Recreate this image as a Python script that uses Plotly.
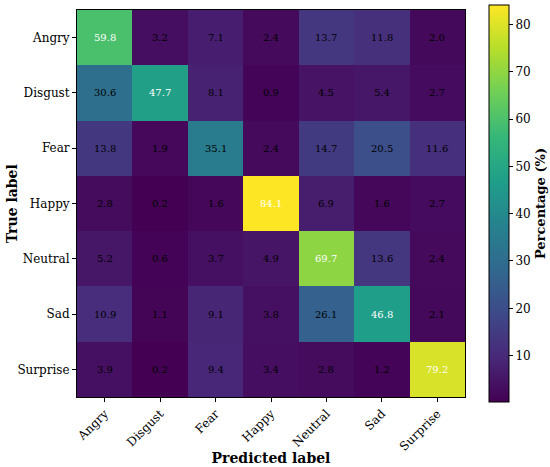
import plotly.graph_objects as go

labels = ["Angry", "Disgust", "Fear", "Happy", "Neutral", "Sad", "Surprise"]

# rows = true label, cols = predicted label (percent)
angry = [59.8, 3.2, 7.1, 2.4, 13.7, 11.8, 2.0]
disgust = [30.6, 47.7, 8.1, 0.9, 4.5, 5.4, 2.7]
fear = [13.8, 1.9, 35.1, 2.4, 14.7, 20.5, 11.6]
happy = [2.8, 0.2, 1.6, 84.1, 6.9, 1.6, 2.7]
neutral = [5.2, 0.6, 3.7, 4.9, 69.7, 13.6, 2.4]
sad = [10.9, 1.1, 9.1, 3.8, 26.1, 46.8, 2.1]
surprise = [3.9, 0.2, 9.4, 3.4, 2.8, 1.2, 79.2]

z = [angry, disgust, fear, happy, neutral, sad, surprise]
zmin = min(min(r) for r in z)
zmax = max(max(r) for r in z)
thresh = zmax / 2

serif = "DejaVu Serif"

fig = go.Figure(go.Heatmap(
    z=z, x=labels, y=labels,
    colorscale="Viridis", zmin=zmin, zmax=zmax,
    colorbar=dict(
        thickness=20, len=1.025, lenmode="fraction", ypad=0, xpad=0,
        x=1.062, xanchor="left", y=0.5, yanchor="middle",
        outlinewidth=1, outlinecolor="black",
        ticks="outside", ticklen=4, tickcolor="black",
        tickvals=[10, 20, 30, 40, 50, 60, 70, 80],
        tickfont=dict(family=serif, size=12, color="black"),
        title=dict(text="<b>Percentage (%)</b>", side="right",
                   font=dict(family=serif, size=13, color="black")),
    ),
    hovertemplate="%{y} → %{x}: %{z:.1f}%<extra></extra>",
))

annotations = []
for i, row in enumerate(z):
    for j, v in enumerate(row):
        annotations.append(dict(
            x=labels[j], y=labels[i], xref="x", yref="y",
            text="%.1f" % v, showarrow=False,
            font=dict(family=serif, size=10,
                      color="white" if v > thresh else "black"),
        ))

# y axis title placed by hand so it sits where the reference has it
annotations.append(dict(
    x=-0.168, y=0.5, xref="paper", yref="paper", xanchor="center", yanchor="middle",
    text="<b>True label</b>", textangle=-90, showarrow=False,
    font=dict(family=serif, size=14, color="black"),
))

fig.update_layout(
    width=550, height=467,
    margin=dict(l=77, r=85, t=10, b=70, autoexpand=False),
    plot_bgcolor="white", paper_bgcolor="white",
    annotations=annotations,
    font=dict(family=serif, size=12, color="black"),
    xaxis=dict(
        title=dict(text="<b>Predicted label</b>", font=dict(size=14), standoff=0),
        tickangle=-45, ticks="outside", ticklen=4, tickcolor="black",
        showline=True, linecolor="black", linewidth=1, mirror=True,
        tickfont=dict(family=serif, size=12),
    ),
    yaxis=dict(
        autorange="reversed", ticks="outside", ticklen=4, tickcolor="black",
        showline=True, linecolor="black", linewidth=1, mirror=True,
        tickfont=dict(family=serif, size=12),
    ),
)

# the page body has a default 8px margin; drop it so the figure fills the window
fig.write_html("out.html", config={"displayModeBar": False},
               post_script="document.body.style.margin='0';")
